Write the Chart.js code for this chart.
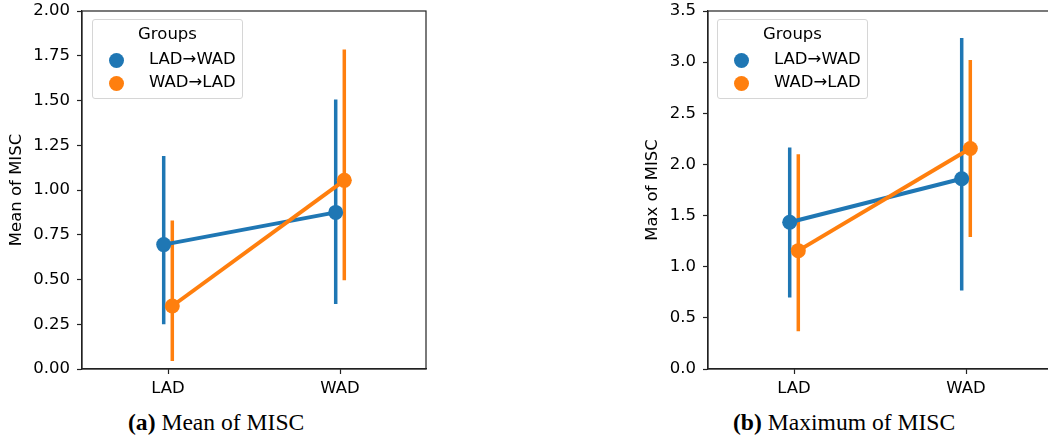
<!DOCTYPE html>
<html>
<head>
<meta charset="utf-8">
<script src="https://cdn.jsdelivr.net/npm/chart.js@4/dist/chart.umd.min.js"></script>
<style>
  body { margin: 0; width: 1048px; height: 440px; overflow: hidden; background: #fff; position: relative; font-family: "DejaVu Sans", sans-serif; }
  canvas { position: absolute; top: 0; }
  .legend { position: absolute; top: 19px; width: 151px; height: 80px; box-sizing: border-box;
    border: 1px solid #d6d6d6; border-radius: 3px; background: rgba(255,255,255,0.8); font-size: 16.5px; color: #000; }
  .legend .ttl { position: absolute; left: 0; right: 0; top: 4px; text-align: center; }
  .legend .mk { position: absolute; left: 16px; width: 15px; height: 15px; border-radius: 50%; }
  .legend .lb { position: absolute; left: 56px; }
  .cap { position: absolute; top: 409px; font-family: "Liberation Serif", serif; font-size: 23.6px; line-height: 26px; white-space: nowrap; }
</style>
</head>
<body>
<canvas id="mean" width="440" height="400" style="left:0px"></canvas>
<canvas id="max" width="440" height="400" style="left:620px"></canvas>

<div class="legend" style="left:92px">
  <div class="ttl">Groups</div>
  <div class="mk" style="top:33px;background:#1f77b4"></div><div class="lb" style="top:29px">LAD→WAD</div>
  <div class="mk" style="top:56px;background:#ff7f0e"></div><div class="lb" style="top:52px">WAD→LAD</div>
</div>
<div class="legend" style="left:717px">
  <div class="ttl">Groups</div>
  <div class="mk" style="top:33px;background:#1f77b4"></div><div class="lb" style="top:29px">LAD→WAD</div>
  <div class="mk" style="top:56px;background:#ff7f0e"></div><div class="lb" style="top:52px">WAD→LAD</div>
</div>

<div class="cap" style="left:128px"><b>(a)</b> Mean of MISC</div>
<div class="cap" style="left:733px"><b>(b)</b> Maximum of MISC</div>

<script>
const categories = ["LAD", "WAD"];
const groups = ["LAD→WAD", "WAD→LAD"];

// mean of MISC
const meanLW = [0.695, 0.875];
const meanLWLow = [0.25, 0.363];
const meanLWHigh = [1.19, 1.505];
const meanWL = [0.352, 1.054];
const meanWLLow = [0.045, 0.496];
const meanWLHigh = [0.83, 1.785];

// max of MISC
const maxLW = [1.435, 1.86];
const maxLWLow = [0.70, 0.767];
const maxLWHigh = [2.166, 3.235];
const maxWL = [1.157, 2.156];
const maxWLLow = [0.37, 1.29];
const maxWLHigh = [2.10, 3.02];

const blue = "#1f77b4";
const orange = "#ff7f0e";
const dodge = 0.025;
const font = { family: "DejaVu Sans", size: 16.5 };

function lineSet(vals, color, off) {
  return {
    data: vals.map((v, i) => ({ x: i + off, y: v })),
    borderColor: color,
    backgroundColor: color,
    borderWidth: 4,
    pointRadius: 7.5,
    pointBorderWidth: 0,
    showLine: true
  };
}

function ciSets(low, high, color, off) {
  let out = [];
  for (let i = 0; i < low.length; i++) {
    out.push({
      data: [{ x: i + off, y: low[i] }, { x: i + off, y: high[i] }],
      borderColor: color,
      borderWidth: 3.5,
      pointRadius: 0,
      showLine: true,
      borderCapStyle: "butt"
    });
  }
  return out;
}

// box round the plot area (top and right spines)
const boxPlugin = {
  id: "box",
  afterDraw(chart) {
    const a = chart.chartArea;
    const c = chart.ctx;
    c.save();
    c.strokeStyle = "#222";
    c.lineWidth = 1.2;
    c.strokeRect(a.left, a.top, a.right - a.left, a.bottom - a.top);
    c.restore();
  }
};

function noPad(s) {
  s.paddingTop = 0;
  s.paddingBottom = 0;
  s.paddingLeft = 0;
  s.paddingRight = 0;
}

function makeChart(id, lw, lwLow, lwHigh, wl, wlLow, wlHigh, ymax, step, digits, title, axisW, padRight, titlePad) {
  const ctx = document.getElementById(id).getContext("2d");
  return new Chart(ctx, {
    type: "scatter",
    data: {
      datasets: [
        lineSet(wl, orange, dodge),
        lineSet(lw, blue, -dodge),
        ...ciSets(wlLow, wlHigh, orange, dodge),
        ...ciSets(lwLow, lwHigh, blue, -dodge)
      ]
    },
    options: {
      responsive: false,
      animation: false,
      events: [],
      layout: { padding: { top: 11, right: padRight, left: 0, bottom: 0 } },
      plugins: { legend: { display: false }, tooltip: { enabled: false } },
      scales: {
        x: {
          type: "linear",
          min: -0.5,
          max: 1.5,
          afterFit(s) { s.height = 31; noPad(s); },
          afterBuildTicks(s) { s.ticks = categories.map((c, i) => ({ value: i })); },
          ticks: { font: font, color: "#000", padding: 5, callback: (v) => categories[v] },
          grid: { drawOnChartArea: false, tickLength: 5, color: "#222", tickWidth: 1.2 },
          border: { display: true, color: "#222", width: 1.2 }
        },
        y: {
          min: 0,
          max: ymax,
          afterFit(s) { s.width = axisW; noPad(s); },
          ticks: { stepSize: step, font: font, color: "#000", padding: 7, callback: (v) => v.toFixed(digits) },
          grid: { drawOnChartArea: false, tickLength: 5, color: "#222", tickWidth: 1.2 },
          border: { display: true, color: "#222", width: 1.2 },
          title: { display: true, text: title, font: font, color: "#000", padding: { top: titlePad, bottom: 0 } }
        }
      }
    },
    plugins: [boxPlugin]
  });
}

window.onload = function() {
  makeChart("mean", meanLW, meanLWLow, meanLWHigh, meanWL, meanWLLow, meanWLHigh, 2, 0.25, 2, "Mean of MISC", 82, 14, 7);
  makeChart("max", maxLW, maxLWLow, maxLWHigh, maxWL, maxWLLow, maxWLHigh, 3.5, 0.5, 1, "Max of MISC", 88, 8, 23);
};
</script>
</body>
</html>
